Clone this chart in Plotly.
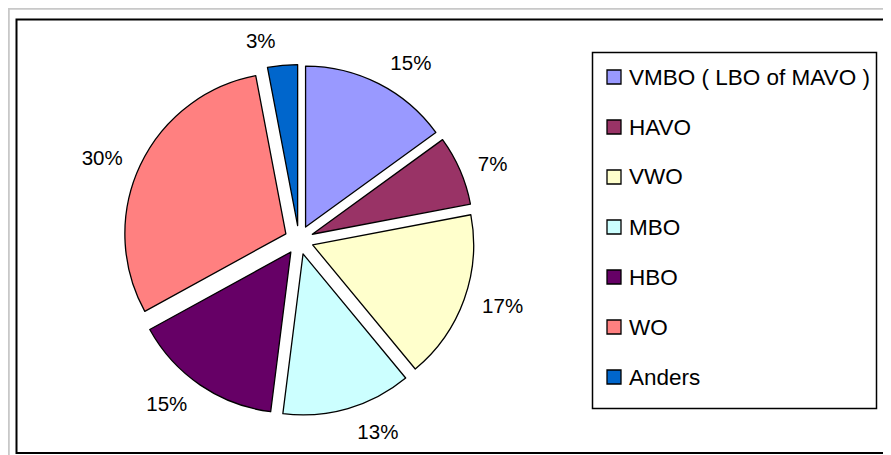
import plotly.graph_objects as go

# de pagina heeft 8 px body-marge; figuur vult de rest van het venster
W, H = 883, 447

labels = ["VMBO ( LBO of MAVO )", "HAVO", "VWO", "MBO", "HBO", "WO", "Anders"]
values = [15, 7, 17, 13, 15, 30, 3]
colors = ["#9999FF", "#993366", "#FFFFCC", "#CCFFFF", "#660066", "#FF8080", "#0066CC"]

FONT = "Liberation Sans, Arial, sans-serif"


def px(x):
    return x / W


def py(y):
    return 1 - y / H


common = dict(
    labels=labels,
    values=values,
    sort=False,
    direction="clockwise",
    rotation=0,
    pull=0.09,
    showlegend=False,
)

fig = go.Figure()
# zichtbare taart, zonder tekst
fig.add_trace(
    go.Pie(
        **common,
        marker=dict(colors=colors, line=dict(color="black", width=1.3)),
        textinfo="none",
        domain=dict(x=[px(91), px(491)], y=[py(407.5), py(56.5)]),
        hoverinfo="label+percent",
    )
)
# onzichtbare, iets grotere taart: alleen voor de percentages iets verder naar buiten
fig.add_trace(
    go.Pie(
        **common,
        marker=dict(colors=["rgba(0,0,0,0)"] * len(values), line=dict(width=0)),
        texttemplate="%{value}%",
        textposition="outside",
        textfont=dict(family=FONT, size=20.5, color="black"),
        domain=dict(x=[px(91), px(491)], y=[py(420.5), py(43.5)]),
        hoverinfo="skip",
    )
)

# kader rond de figuur
shapes = [
    dict(type="rect", xref="paper", yref="paper", x0=px(0.8), x1=px(900), y0=py(470), y1=py(0.8),
         line=dict(color="#C8C8C8", width=2)),
    dict(type="rect", xref="paper", yref="paper", x0=px(8.5), x1=px(900), y0=py(445), y1=py(11.5),
         line=dict(color="black", width=2)),
    # legenda-kader
    dict(type="rect", xref="paper", yref="paper", x0=px(584.5), x1=px(868.5), y0=py(400.5), y1=py(44.5),
         line=dict(color="black", width=1.5)),
]
annotations = []

# legenda met handmatige regelafstand (50 px), zoals in het origineel
for i, (lab, col) in enumerate(zip(labels, colors)):
    yc = 69 + 50 * i
    shapes.append(
        dict(type="rect", xref="paper", yref="paper", x0=px(599), x1=px(613), y0=py(yc + 7), y1=py(yc - 7),
             fillcolor=col, line=dict(color="black", width=1.3))
    )
    annotations.append(
        dict(x=px(619), y=py(yc), xref="paper", yref="paper", text=lab, showarrow=False,
             xanchor="left", yanchor="middle", font=dict(family=FONT, size=22.5, color="black"))
    )

fig.update_layout(
    width=W,
    height=H,
    margin=dict(l=0, r=0, t=0, b=0, autoexpand=False),
    paper_bgcolor="white",
    font=dict(family=FONT, size=20, color="black"),
    shapes=shapes,
    annotations=annotations,
)

fig.write_html("out.html")
